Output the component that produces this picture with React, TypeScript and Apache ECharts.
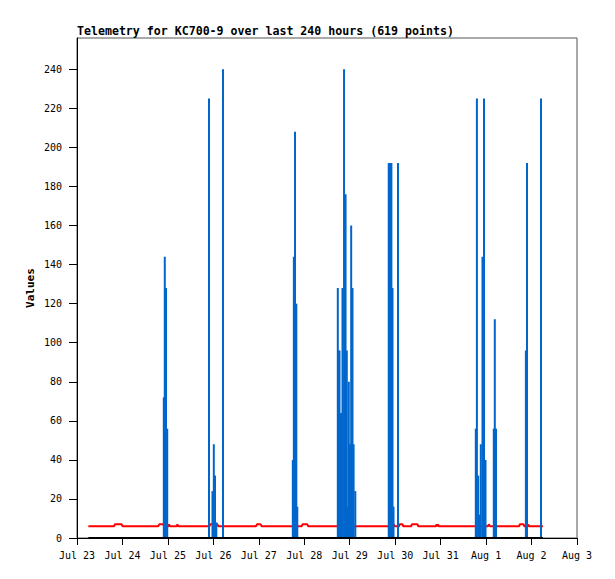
import React, { useEffect, useRef } from "react";
import * as echarts from "echarts";

const TITLE = "Telemetry for KC700-9 over last 240 hours (619 points)";
const Y_NAME = "Values";
const X_MIN = "2024-07-23 00:00";
const X_MAX = "2024-08-03 00:00";
const MONTHS = ["Jan", "Feb", "Mar", "Apr", "May", "Jun", "Jul", "Aug", "Sep", "Oct", "Nov", "Dec"];
const yTicks = [0, 20, 40, 60, 80, 100, 120, 140, 160, 180, 200, 220, 240];
const Y_MAX = 256;
const HOURS_PER_TICK = 24;

// blue impulses
const spikeTimes = [
  "2024-07-24 21:50", "2024-07-24 22:21", "2024-07-24 23:00", "2024-07-24 23:38",
  "2024-07-25 21:42", "2024-07-25 23:32", "2024-07-26 00:14", "2024-07-26 00:52", "2024-07-26 01:33", "2024-07-26 05:05",
  "2024-07-27 17:57", "2024-07-27 18:30", "2024-07-27 19:06", "2024-07-27 19:48", "2024-07-27 20:19",
  "2024-07-28 17:42", "2024-07-28 18:10", "2024-07-28 18:36", "2024-07-28 19:05", "2024-07-28 19:30",
  "2024-07-28 20:10", "2024-07-28 21:00", "2024-07-28 21:48", "2024-07-28 22:27", "2024-07-28 23:02",
  "2024-07-28 23:30", "2024-07-29 00:08", "2024-07-29 00:46", "2024-07-29 01:28", "2024-07-29 02:03",
  "2024-07-29 02:57",
  "2024-07-29 20:36", "2024-07-29 21:06", "2024-07-29 21:36", "2024-07-29 22:00", "2024-07-29 22:35",
  "2024-07-29 23:07", "2024-07-30 01:29",
  "2024-07-31 18:34", "2024-07-31 19:09", "2024-07-31 19:50", "2024-07-31 20:25", "2024-07-31 21:12",
  "2024-07-31 22:06", "2024-07-31 22:54", "2024-07-31 23:42", "2024-08-01 04:04", "2024-08-01 04:36",
  "2024-08-01 05:14",
  "2024-08-01 21:00", "2024-08-01 21:36", "2024-08-02 05:00",
];
const spikeValues = [
  72, 144, 128, 56,
  225, 24, 48, 32, 8, 240,
  40, 144, 208, 120, 16,
  128, 96, 96, 64, 64,
  128, 240, 176, 96, 16,
  80, 48, 160, 128, 48,
  24,
  192, 192, 192, 192, 128,
  16, 192,
  56, 225, 32, 12, 48,
  144, 225, 40, 56, 112,
  56,
  96, 192, 225,
];

// red line
const redTimes = [
  "2024-07-23 06:00", "2024-07-23 19:30", "2024-07-23 20:00", "2024-07-23 23:30", "2024-07-24 00:06",
  "2024-07-24 18:54", "2024-07-24 19:24", "2024-07-24 21:36", "2024-07-24 22:00",
  "2024-07-25 00:12", "2024-07-25 00:36", "2024-07-25 01:06",
  "2024-07-25 04:36", "2024-07-25 05:00", "2024-07-25 05:30",
  "2024-07-25 21:54", "2024-07-25 22:24", "2024-07-26 00:00", "2024-07-26 00:24", "2024-07-26 00:48",
  "2024-07-26 02:12", "2024-07-26 02:36",
  "2024-07-26 22:30", "2024-07-26 23:00", "2024-07-27 01:00", "2024-07-27 01:30",
  "2024-07-27 18:12", "2024-07-27 18:36", "2024-07-27 19:36", "2024-07-27 20:00",
  "2024-07-27 22:36", "2024-07-27 23:06", "2024-07-28 01:36", "2024-07-28 02:06",
  "2024-07-28 23:30", "2024-07-29 00:00", "2024-07-29 00:36",
  "2024-07-29 22:54", "2024-07-29 23:18", "2024-07-29 23:48",
  "2024-07-30 02:00", "2024-07-30 02:24", "2024-07-30 03:54", "2024-07-30 04:18",
  "2024-07-30 08:24", "2024-07-30 08:48", "2024-07-30 11:48", "2024-07-30 12:12",
  "2024-07-30 21:30", "2024-07-30 21:54", "2024-07-30 22:12", "2024-07-30 22:36", "2024-07-30 23:00",
  "2024-08-01 01:00", "2024-08-01 01:24", "2024-08-01 02:12",
  "2024-08-01 17:24", "2024-08-01 17:48", "2024-08-01 19:48", "2024-08-01 20:12",
  "2024-08-01 21:48", "2024-08-01 22:12", "2024-08-01 22:36",
  "2024-08-02 06:00",
];
const redValues = [
  6, 6, 7, 7, 6,
  6, 7, 7, 6,
  6, 7, 6,
  6, 7, 6,
  6, 7, 7, 6, 7,
  7, 6,
  6, 7, 7, 6,
  6, 7, 7, 6,
  6, 7, 7, 6,
  6, 7, 6,
  6, 7, 6,
  6, 7, 7, 6,
  6, 7, 7, 6,
  6, 7, 6, 7, 6,
  6, 7, 6,
  6, 7, 7, 6,
  6, 7, 6,
  6,
];

// black zero line
const zeroTimes = ["2024-07-23 06:00", "2024-08-02 06:00"];
const zeroValues = [0, 0];

const parse = (s: string) => {
  const [d, t] = s.split(" ");
  const [y, mo, da] = d.split("-").map(Number);
  const [h, mi] = t.split(":").map(Number);
  return new Date(y, mo - 1, da, h, mi);
};
const START = parse(X_MIN);
const toHours = (s: string) => (parse(s).getTime() - START.getTime()) / 3600000;
const zip = (t: string[], v: number[]) => t.map((s, i) => [toHours(s), v[i]]);

const MONO = "'DejaVu Sans Mono', monospace";

export default function App() {
  const ref = useRef<HTMLDivElement>(null);
  useEffect(() => {
    if (!ref.current) return;
    const chart = echarts.init(ref.current, null, { renderer: "svg" });
    chart.setOption({
      animation: false,
      backgroundColor: "#fff",
      title: {
        text: TITLE,
        left: 77,
        top: 25,
        padding: 0,
        textStyle: { fontFamily: MONO, fontSize: 11.6, fontWeight: "bold", color: "#000" },
      },
      grid: {
        left: 77,
        right: 38,
        top: 38,
        bottom: 41,
        show: true,
        borderColor: "#555",
        borderWidth: 1,
        backgroundColor: "#fff",
      },
      xAxis: {
        type: "value",
        min: 0,
        max: toHours(X_MAX),
        interval: HOURS_PER_TICK,
        axisLine: { show: true, lineStyle: { color: "#000", width: 1 } },
        axisTick: { show: true, length: 7, lineStyle: { color: "#000" } },
        axisLabel: {
          formatter: (v: number) => {
            const d = new Date(START.getTime() + v * 3600000);
            return MONTHS[d.getMonth()] + " " + d.getDate();
          },
          fontFamily: MONO,
          fontSize: 10,
          color: "#000",
          margin: 12,
          showMinLabel: true,
          showMaxLabel: true,
        },
        splitLine: { show: false },
      },
      yAxis: {
        type: "value",
        min: 0,
        max: Y_MAX,
        name: Y_NAME,
        nameLocation: "middle",
        nameGap: 41,
        nameMoveOverlap: false,
        nameTextStyle: { fontFamily: MONO, fontSize: 11, fontWeight: "bold", color: "#000" },
        axisLine: { show: true, lineStyle: { color: "#000", width: 1 } },
        axisTick: { show: true, length: 8, customValues: yTicks, lineStyle: { color: "#000" } },
        axisLabel: {
          customValues: yTicks,
          fontFamily: MONO,
          fontSize: 10,
          color: "#000",
          margin: 15,
        },
        splitLine: { show: false },
      },
      series: [
        {
          type: "line",
          data: zip(redTimes, redValues),
          showSymbol: false,
          lineStyle: { color: "#ff0000", width: 2 },
          z: 1,
        },
        {
          type: "bar",
          data: zip(spikeTimes, spikeValues),
          barWidth: 2,
          itemStyle: { color: "#0066cc" },
          z: 2,
        },
        {
          type: "line",
          data: zip(zeroTimes, zeroValues),
          showSymbol: false,
          lineStyle: { color: "#000", width: 2 },
          z: 3,
        },
      ],
    });
    return () => chart.dispose();
  }, []);
  return (
    <div
      ref={ref}
      style={{ position: "absolute", left: 0, top: 0, width: 615, height: 579 }}
    />
  );
}
